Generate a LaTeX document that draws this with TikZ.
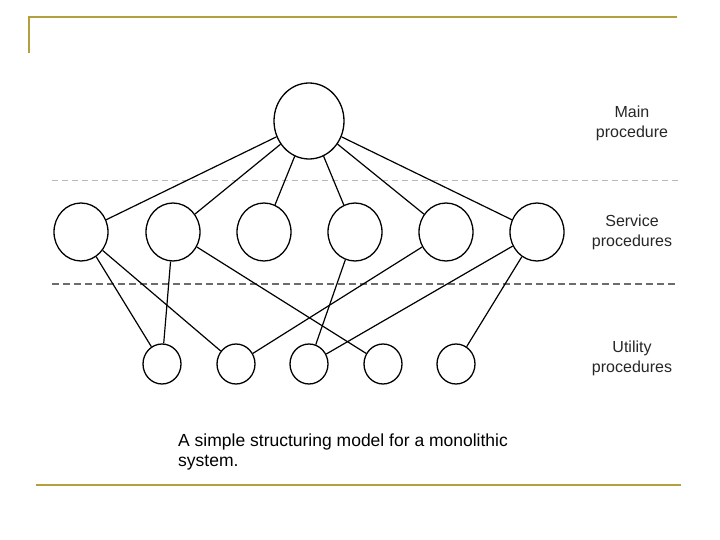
\documentclass[tikz,border=0pt]{standalone}
\usepackage{fontspec}
\setmainfont{Liberation Sans}
\usetikzlibrary{shapes.geometric}
\definecolor{gold}{RGB}{178,160,62}
\tikzset{
  proc/.style={draw=black, line width=1.3pt, ellipse, inner sep=0pt, fill=white},
  mainproc/.style={proc, minimum width=70pt, minimum height=76pt},
  servproc/.style={proc, minimum width=54pt, minimum height=58pt},
  utilproc/.style={proc, minimum width=38pt, minimum height=40pt},
  link/.style={draw=black, line width=1.2pt},
  lightdash/.style={draw=gray!55, line width=0.9pt, dash pattern=on 6pt off 4pt},
  heavydash/.style={draw=gray!85!black, line width=1.4pt, dash pattern=on 7pt off 4pt},
  layerlabel/.style={align=center, font=\fontsize{16}{20}\selectfont, text=black!85},
  frame/.style={draw=gold, line width=2.6pt}
}
\begin{document}
\begin{tikzpicture}[x=1pt,y=-1pt]
\useasboundingbox (0,0) rectangle (720,540);
% frame
\draw[frame] (29,53) -- (29,17) -- (677,17);
\draw[frame] (36,485) -- (681,485);
% separators
\draw[lightdash] (52,180) -- (678,180);
\draw[heavydash] (52,284) -- (678,284);
% nodes
\node[mainproc] (m) at (309,121) {};
\node[servproc] (s1) at (81,232) {};
\node[servproc] (s2) at (173,232) {};
\node[servproc] (s3) at (264,232) {};
\node[servproc] (s4) at (355,232) {};
\node[servproc] (s5) at (446,232) {};
\node[servproc] (s6) at (537,232) {};
\node[utilproc] (u1) at (162,364) {};
\node[utilproc] (u2) at (236,364) {};
\node[utilproc] (u3) at (309,364) {};
\node[utilproc] (u4) at (383,364) {};
\node[utilproc] (u5) at (456,364) {};
% connectors
\foreach \s in {s1,s2,s3,s4,s5,s6} \draw[link] (m) -- (\s);
\draw[link] (s1) -- (u1);
\draw[link] (s1) -- (u2);
\draw[link] (s2) -- (u1);
\draw[link] (s2) -- (u4);
\draw[link] (s4) -- (u3);
\draw[link] (s5) -- (u2);
\draw[link] (s6) -- (u3);
\draw[link] (s6) -- (u5);
% labels
\node[layerlabel] (lm) at (632,123) {Main\\procedure};
\node[layerlabel] (ls) at (632,232) {Service\\procedures};
\node[layerlabel] (lu) at (632,358) {Utility\\procedures};
\node[anchor=west, align=left, font=\fontsize{17.5}{19.5}\selectfont, inner sep=0pt] (cap) at (178,452) {A simple structuring model for a monolithic\\system.};
\end{tikzpicture}
\end{document}
